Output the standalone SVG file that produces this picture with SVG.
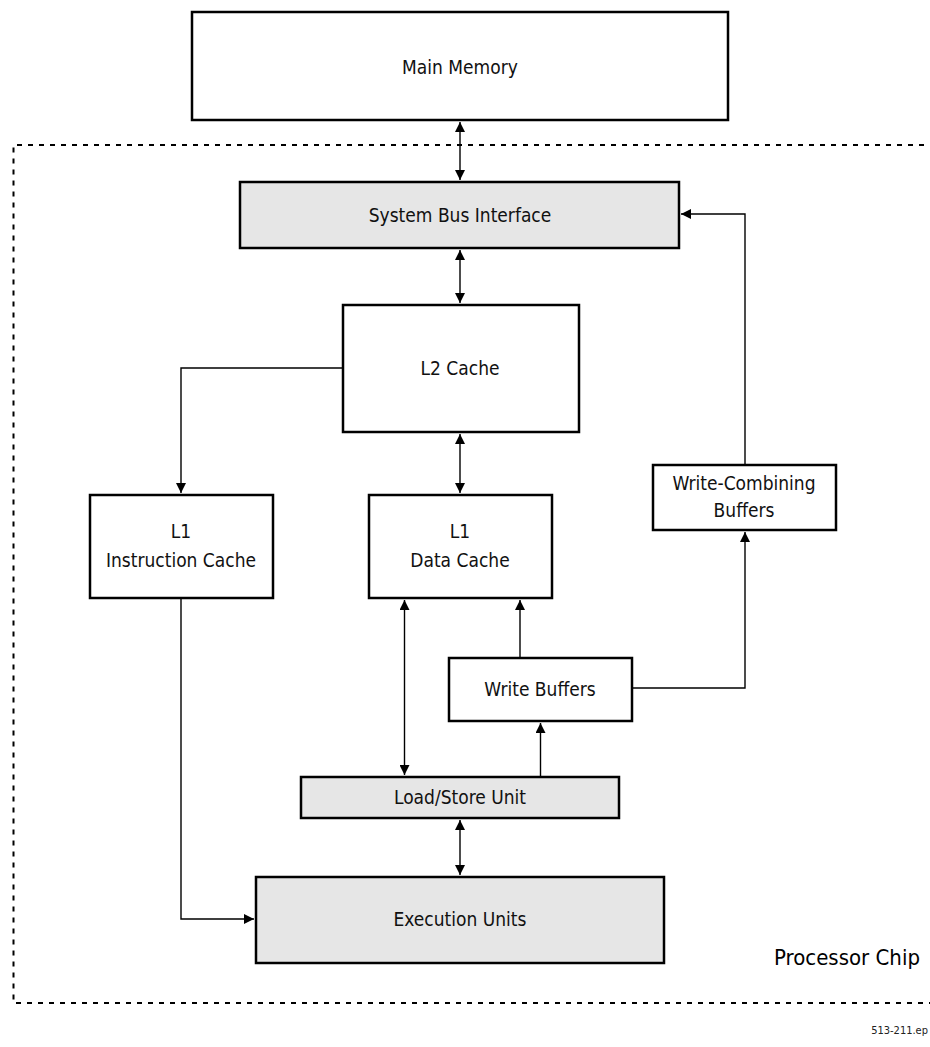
<svg xmlns="http://www.w3.org/2000/svg" width="930" height="1047" viewBox="0 0 930 1047">
<defs>
<marker id="ah" viewBox="0 0 10 10" refX="10" refY="5" markerWidth="11" markerHeight="10" markerUnits="userSpaceOnUse" orient="auto-start-reverse">
<path d="M0,0 L10,5 L0,10 z" fill="#000"/>
</marker>
<style>
.box{fill:#fff;stroke:#000;stroke-width:2.5}
.grey{fill:#e6e6e6;stroke:#000;stroke-width:2.5}
.lbl{font-family:"Liberation Sans Narrow","DejaVu Sans Condensed","Liberation Sans",sans-serif;font-size:19px;text-anchor:middle;fill:#111}
.con{fill:none;stroke:#000;stroke-width:1.4}
.chip{fill:none;stroke:#000;stroke-width:2;stroke-dasharray:5 6}
</style>
</defs>
<rect width="930" height="1047" fill="#fff"/>
<path class="chip" d="M935,145 H13.5 V1003 H935"/>
<g id="main-memory"><rect class="box" x="192" y="12" width="536" height="108"/><text class="lbl" x="460" y="74">Main Memory</text></g>
<g id="system-bus-interface"><rect class="grey" x="240" y="182" width="439" height="66"/><text class="lbl" x="460" y="222">System Bus Interface</text></g>
<g id="l2-cache"><rect class="box" x="343" y="305" width="236" height="127"/><text class="lbl" x="460" y="375">L2 Cache</text></g>
<g id="l1-instruction-cache"><rect class="box" x="90" y="495" width="183" height="103"/><text class="lbl" x="181" y="538">L1</text><text class="lbl" x="181" y="567">Instruction Cache</text></g>
<g id="l1-data-cache"><rect class="box" x="369" y="495" width="183" height="103"/><text class="lbl" x="460" y="538">L1</text><text class="lbl" x="460" y="567">Data Cache</text></g>
<g id="write-combining-buffers"><rect class="box" x="653" y="465" width="183" height="65"/><text class="lbl" x="744" y="490">Write-Combining</text><text class="lbl" x="744" y="517">Buffers</text></g>
<g id="write-buffers"><rect class="box" x="449" y="658" width="183" height="63"/><text class="lbl" x="540" y="696">Write Buffers</text></g>
<g id="load-store-unit"><rect class="grey" x="301" y="777" width="318" height="41"/><text class="lbl" x="460" y="804">Load/Store Unit</text></g>
<g id="execution-units"><rect class="grey" x="256" y="877" width="408" height="86"/><text class="lbl" x="460" y="926">Execution Units</text></g>
<g id="processor-chip-label"><text x="774" y="965" style="font-family:'Liberation Sans Narrow','DejaVu Sans Condensed','Liberation Sans',sans-serif;font-size:22px;fill:#000">Processor Chip</text></g>
<text x="928" y="1034" style="font-family:'Liberation Sans Narrow','DejaVu Sans Condensed','Liberation Sans',sans-serif;font-size:11px;fill:#222;text-anchor:end">513-211.ep</text>
<g id="connectors">
<path class="con" d="M460,122 V180" marker-start="url(#ah)" marker-end="url(#ah)"/>
<path class="con" d="M460,250 V303" marker-start="url(#ah)" marker-end="url(#ah)"/>
<path class="con" d="M343,368 H181 V493" marker-end="url(#ah)"/>
<path class="con" d="M460,434 V493" marker-start="url(#ah)" marker-end="url(#ah)"/>
<path class="con" d="M404.5,600 V775" marker-start="url(#ah)" marker-end="url(#ah)"/>
<path class="con" d="M520,658 V600" marker-end="url(#ah)"/>
<path class="con" d="M540.5,777 V723" marker-end="url(#ah)"/>
<path class="con" d="M632,688 H745 V532" marker-end="url(#ah)"/>
<path class="con" d="M745,465 V214 H681" marker-end="url(#ah)"/>
<path class="con" d="M460,820 V875" marker-start="url(#ah)" marker-end="url(#ah)"/>
<path class="con" d="M181,598 V919 H254" marker-end="url(#ah)"/>
</g>
</svg>
